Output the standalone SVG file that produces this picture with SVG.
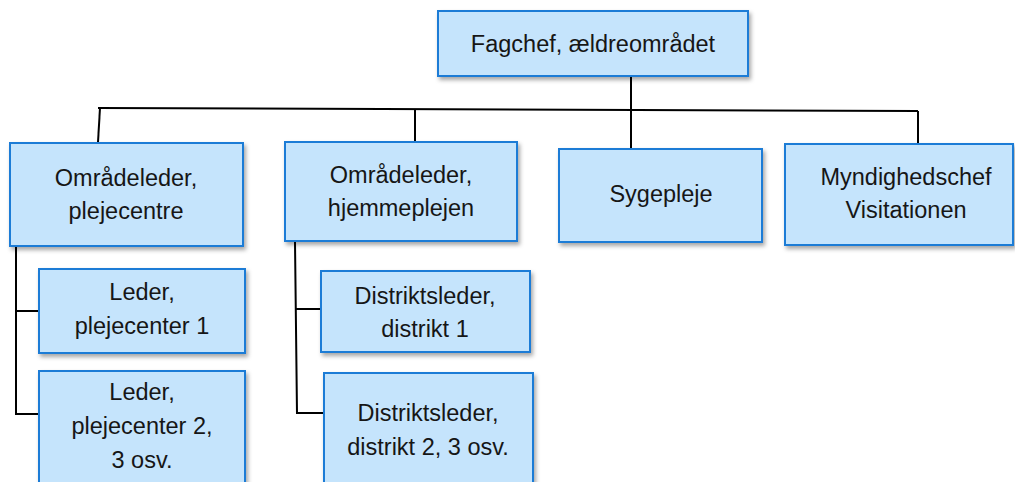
<svg xmlns="http://www.w3.org/2000/svg" width="1015" height="482" viewBox="0 0 1015 482">
  <defs>
    <filter id="shadow" x="-10%" y="-10%" width="125%" height="130%">
      <feDropShadow dx="2" dy="3" stdDeviation="2" flood-color="#000" flood-opacity="0.35"/>
    </filter>
    <style>
      .box { fill: #C5E4FC; stroke: #1A7BD6; stroke-width: 2; filter: url(#shadow); }
      .lbl { font-family: "Liberation Sans", Arial, sans-serif; font-size: 23.5px; fill: #161616; text-anchor: middle; }
      .conn { fill: none; stroke: #000; stroke-width: 2; }
    </style>
  </defs>
  <rect width="1015" height="482" fill="#fff"/>

  <!-- connectors -->
  <g id="connectors" class="conn">
    <polyline points="98,108 918,111"/>
    <line x1="631" y1="76" x2="631" y2="150"/>
    <line x1="100" y1="108" x2="98" y2="142"/>
    <line x1="415" y1="109" x2="415" y2="141"/>
    <line x1="918" y1="111" x2="918" y2="147"/>
    <!-- plejecentre branch -->
    <polyline points="16,246 16,414 42,414"/>
    <line x1="16" y1="311" x2="42" y2="311"/>
    <!-- hjemmeplejen branch -->
    <polyline points="295,242 297,413 329,413"/>
    <line x1="296" y1="309" x2="324" y2="309"/>
  </g>

  <g id="fagchef">
    <rect class="box" x="438" y="11" width="310" height="65"/>
    <text class="lbl" x="593" y="52">Fagchef, ældreområdet</text>
  </g>

  <g id="omraadeleder-plejecentre">
    <rect class="box" x="10" y="143" width="233" height="103"/>
    <text class="lbl" x="126" y="186">Områdeleder,</text>
    <text class="lbl" x="126" y="219">plejecentre</text>
  </g>

  <g id="omraadeleder-hjemmeplejen">
    <rect class="box" x="285" y="142" width="232" height="99"/>
    <text class="lbl" x="401" y="183">Områdeleder,</text>
    <text class="lbl" x="401" y="216">hjemmeplejen</text>
  </g>

  <g id="sygepleje">
    <rect class="box" x="559" y="149" width="203" height="93"/>
    <text class="lbl" x="661" y="202">Sygepleje</text>
  </g>

  <g id="myndighedschef">
    <rect class="box" x="785" y="144" width="228" height="101"/>
    <text class="lbl" x="906" y="185">Myndighedschef</text>
    <text class="lbl" x="906" y="218">Visitationen</text>
  </g>

  <g id="leder-plejecenter-1">
    <rect class="box" x="39" y="269" width="206" height="84"/>
    <text class="lbl" x="142" y="300">Leder,</text>
    <text class="lbl" x="142" y="334">plejecenter 1</text>
  </g>

  <g id="leder-plejecenter-2">
    <rect class="box" x="39" y="371" width="206" height="125"/>
    <text class="lbl" x="142" y="400">Leder,</text>
    <text class="lbl" x="142" y="434">plejecenter 2,</text>
    <text class="lbl" x="142" y="468">3 osv.</text>
  </g>

  <g id="distriktsleder-1">
    <rect class="box" x="321" y="271" width="209" height="81"/>
    <text class="lbl" x="425" y="304">Distriktsleder,</text>
    <text class="lbl" x="425" y="337">distrikt 1</text>
  </g>

  <g id="distriktsleder-2">
    <rect class="box" x="324" y="373" width="209" height="125"/>
    <text class="lbl" x="428" y="421">Distriktsleder,</text>
    <text class="lbl" x="428" y="455">distrikt 2, 3 osv.</text>
  </g>
</svg>
